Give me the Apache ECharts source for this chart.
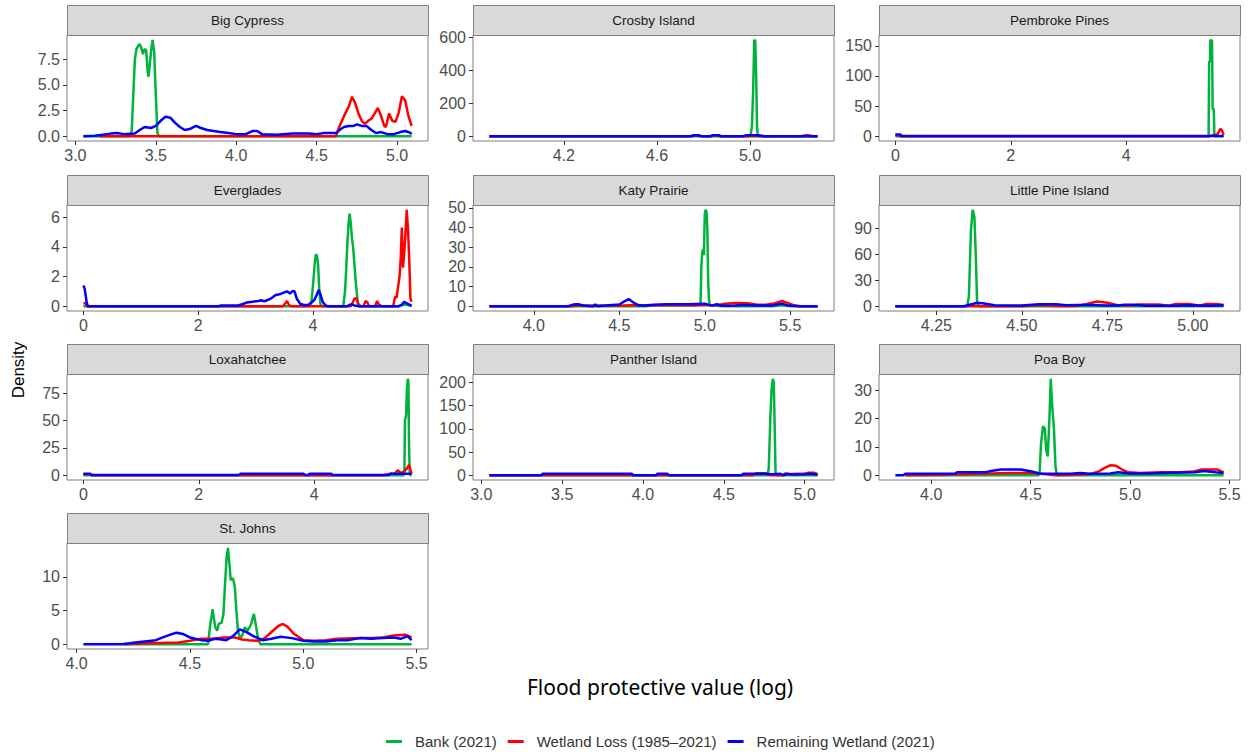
<!DOCTYPE html>
<html>
<head>
<meta charset="utf-8">
<script src="https://cdn.jsdelivr.net/npm/echarts@6/dist/echarts.min.js"></script>
<style>
  html, body { margin: 0; padding: 0; background: #fff; }
  #chart { width: 1249px; height: 752px; }
</style>
</head>
<body>
<div id="chart"></div>
<script>
// series (groups) shared by every panel
var groupNames = ["Bank (2021)", "Wetland Loss (1985–2021)", "Remaining Wetland (2021)"]
var groupColors = ["#00b33c", "#ff0000", "#0000ff"]

var panelNames = ["Big Cypress", "Crosby Island", "Pembroke Pines", "Everglades", "Katy Prairie",
  "Little Pine Island", "Loxahatchee", "Panther Island", "Poa Boy", "St. Johns"]

// tick values per panel
var xTicks = [[3.0, 3.5, 4.0, 4.5, 5.0], [4.2, 4.6, 5.0], [0, 2, 4], [0, 2, 4], [4.0, 4.5, 5.0, 5.5],
  [4.25, 4.5, 4.75, 5.0], [0, 2, 4], [3.0, 3.5, 4.0, 4.5, 5.0], [4.0, 4.5, 5.0, 5.5], [4.0, 4.5, 5.0, 5.5]]
var yTicks = [[0, 2.5, 5, 7.5], [0, 200, 400, 600], [0, 50, 100, 150], [0, 2, 4, 6], [0, 10, 20, 30, 40, 50],
  [0, 30, 60, 90], [0, 25, 50, 75], [0, 50, 100, 150, 200], [0, 10, 20, 30], [0, 5, 10]]
var xDigits = [1, 1, 0, 0, 1, 2, 0, 1, 1, 1]
var yDigits = [1, 0, 0, 0, 0, 0, 0, 0, 0, 0]

// density curves, [x, density]
var bigCypressBank = [[3.05,0],[3.34,0],[3.35,0.5],[3.36,4],[3.37,7.5],[3.38,8.5],[3.39,8.8],[3.40,9.0],[3.41,8.6],[3.42,8.0],[3.43,8.5],[3.44,8.4],[3.45,6.2],[3.455,5.8],[3.46,6.6],[3.47,8.2],[3.48,9.4],[3.49,8.2],[3.50,4.0],[3.51,0.3],[3.52,0],[5.09,0]]
var bigCypressLoss = [[3.15,0],[4.62,0],[4.64,0.9],[4.66,1.6],[4.68,2.3],[4.70,2.9],[4.72,3.85],[4.74,3.2],[4.76,2.2],[4.78,1.5],[4.80,1.2],[4.82,1.5],[4.84,1.7],[4.86,2.2],[4.88,2.75],[4.90,2.0],[4.92,1.0],[4.93,0.9],[4.95,2.2],[4.97,1.5],[4.99,1.4],[5.01,2.3],[5.03,3.9],[5.05,3.5],[5.07,2.0],[5.09,1.0]]
var bigCypressRemain = [[3.05,0],[3.12,0.05],[3.17,0.15],[3.22,0.25],[3.26,0.3],[3.30,0.2],[3.37,0.25],[3.40,0.6],[3.43,0.9],[3.47,0.8],[3.50,1.0],[3.53,1.5],[3.56,1.9],[3.59,1.8],[3.62,1.3],[3.65,0.9],[3.68,0.6],[3.71,0.7],[3.75,1.0],[3.78,0.8],[3.82,0.6],[3.86,0.5],[3.90,0.4],[3.95,0.3],[4.00,0.2],[4.06,0.2],[4.10,0.5],[4.13,0.5],[4.16,0.2],[4.25,0.15],[4.35,0.25],[4.45,0.25],[4.50,0.2],[4.55,0.3],[4.62,0.3],[4.65,0.7],[4.67,0.9],[4.70,1.0],[4.73,1.0],[4.75,1.15],[4.78,1.0],[4.81,1.0],[4.84,0.6],[4.87,0.3],[4.90,0.4],[4.94,0.2],[4.98,0.2],[5.02,0.4],[5.05,0.5],[5.08,0.35],[5.09,0.2]]

var crosbyBank = [[3.88,0],[4.995,0],[5.002,5],[5.008,60],[5.013,270],[5.018,585],[5.022,580],[5.026,375],[5.030,50],[5.034,0],[5.29,0]]
var crosbyLoss = [[3.88,0],[4.74,0],[4.755,4],[4.775,4],[4.785,0],[4.83,0],[4.845,4],[4.86,4],[4.87,0],[5.04,0],[5.05,4],[5.06,0],[5.22,0],[5.235,5],[5.255,5],[5.27,0],[5.29,0]]
var crosbyRemain = [[3.88,0],[4.75,0],[4.76,6],[4.78,6],[4.79,0],[4.83,0],[4.84,6],[4.865,6],[4.875,0],[4.97,0],[4.98,5],[5.04,5],[5.05,0],[5.29,0]]

var pembrokeBank = [[0.0,0],[5.43,0],[5.44,124],[5.455,124],[5.46,160],[5.49,158],[5.50,45],[5.52,45],[5.53,0],[5.69,0]]
var pembrokeLoss = [[0.0,2],[0.05,1],[0.08,0],[5.45,0],[5.52,2],[5.58,3],[5.61,8],[5.635,12],[5.66,10],[5.68,5],[5.69,2]]
var pembrokeRemain = [[0.0,3],[0.09,3],[0.1,0.3],[5.69,0.3]]

var evergladesBank = [[0.0,0],[3.95,0],[3.98,0.5],[4.01,1.8],[4.03,2.8],[4.05,3.5],[4.07,3.4],[4.09,2.8],[4.11,1.2],[4.13,0.2],[4.15,0],[4.53,0],[4.56,1.0],[4.58,2.5],[4.60,4.2],[4.62,5.5],[4.64,6.25],[4.66,5.6],[4.68,4.6],[4.70,4.0],[4.72,3.0],[4.75,1.5],[4.78,0.3],[4.80,0],[5.5,0],[5.58,0.1],[5.64,0.1],[5.72,0]]
var evergladesLoss = [[0.0,0.2],[0.04,0.2],[0.06,0],[3.48,0],[3.52,0.2],[3.55,0.35],[3.58,0.1],[3.62,0],[4.66,0],[4.70,0.3],[4.73,0.55],[4.76,0.5],[4.79,0.15],[4.83,0],[4.88,0],[4.92,0.35],[4.95,0.25],[4.98,0],[5.08,0],[5.12,0.35],[5.15,0.1],[5.20,0],[5.40,0],[5.43,0.6],[5.46,0.6],[5.48,1.2],[5.51,2.0],[5.53,3.2],[5.55,5.3],[5.57,2.6],[5.59,3.5],[5.61,4.7],[5.635,6.5],[5.66,5.0],[5.68,3.0],[5.70,0.5],[5.72,0.3]]
var evergladesRemain = [[0.0,1.4],[0.02,1.2],[0.04,0.7],[0.06,0.2],[0.08,0],[2.35,0],[2.4,0.05],[2.7,0.05],[2.78,0.15],[2.85,0.25],[2.95,0.3],[3.05,0.35],[3.1,0.4],[3.15,0.32],[3.2,0.4],[3.28,0.55],[3.35,0.75],[3.42,0.8],[3.48,0.9],[3.55,1.0],[3.60,0.85],[3.64,1.0],[3.68,1.0],[3.72,0.5],[3.78,0.15],[3.85,0.08],[3.92,0.1],[3.98,0.25],[4.03,0.45],[4.07,0.8],[4.10,1.1],[4.13,0.8],[4.17,0.3],[4.22,0.05],[4.27,0],[4.6,0],[4.64,0.1],[4.68,0.12],[4.72,0.05],[4.8,0],[5.5,0],[5.55,0.1],[5.59,0.3],[5.63,0.2],[5.68,0.1],[5.72,0.05]]

var katyBank = [[3.74,0],[4.65,0],[4.7,0.4],[4.95,0.4],[4.975,1],[4.98,20],[4.985,27],[4.99,29],[4.995,26],[5.0,47],[5.005,49],[5.01,48],[5.015,40],[5.02,12],[5.025,3],[5.03,0.5],[5.1,0],[5.4,0],[5.45,0.5],[5.5,0],[5.66,0]]
var katyLoss = [[3.74,0],[4.22,0],[4.25,0.3],[4.35,0.3],[4.5,0.2],[4.6,0.6],[4.65,0.3],[4.75,0.5],[4.9,0.6],[5.0,0.5],[5.08,0.6],[5.12,1.2],[5.18,1.6],[5.25,1.5],[5.3,0.8],[5.36,0.7],[5.41,1.5],[5.45,2.6],[5.48,1.8],[5.52,0.5],[5.56,0],[5.66,0]]
var katyRemain = [[3.74,0],[4.2,0],[4.23,0.8],[4.26,1.0],[4.29,0.4],[4.33,0],[4.35,0],[4.36,1.0],[4.37,0],[4.42,0.3],[4.46,0.6],[4.5,0.8],[4.53,2.5],[4.555,3.6],[4.58,2.0],[4.61,0.5],[4.65,0.4],[4.7,0.7],[4.78,1.0],[4.9,1.0],[5.0,1.2],[5.04,0.3],[5.07,1.0],[5.1,0.2],[5.18,0.4],[5.22,0.6],[5.3,0.3],[5.4,0.4],[5.45,1.2],[5.49,0.3],[5.55,0],[5.66,0]]

var littlePineBank = [[4.13,0],[4.34,0],[4.345,12],[4.351,89],[4.356,112],[4.361,104],[4.365,61],[4.369,4],[4.375,0],[5.09,0]]
var littlePineLoss = [[4.13,0],[4.5,0],[4.53,0.8],[4.58,0.8],[4.6,0.2],[4.66,0.3],[4.69,2.5],[4.72,5.5],[4.75,4],[4.78,1],[4.82,0.5],[4.84,2],[4.9,2],[4.93,0.5],[4.95,2.5],[4.99,2.5],[5.02,0.5],[5.04,2.5],[5.07,2.5],[5.09,1.5]]
var littlePineRemain = [[4.13,0],[4.33,0],[4.35,2],[4.37,4],[4.39,3],[4.42,1],[4.5,0.8],[4.52,1.5],[4.55,2.2],[4.6,2.2],[4.63,1],[4.66,1.5],[4.7,1.3],[4.75,0.8],[4.78,0.8],[4.8,1.8],[4.83,1.8],[4.86,0.5],[4.95,0.5],[4.98,1],[5.02,0.8],[5.05,0.5],[5.09,1]]

var loxahatcheeBank = [[0,0],[5.55,0],[5.565,3],[5.575,50],[5.595,55],[5.61,80],[5.625,88],[5.635,85],[5.645,30],[5.655,5],[5.665,0],[5.69,0]]
var loxahatcheeLoss = [[0,0.8],[0.12,0.8],[0.14,0],[5.2,0],[5.3,1],[5.4,1.5],[5.45,4.5],[5.5,2],[5.55,3],[5.6,5.5],[5.62,7],[5.645,9.5],[5.66,7],[5.675,4],[5.69,1.5]]
var loxahatcheeRemain = [[0,1.2],[0.12,1.2],[0.14,0.2],[2.7,0.2],[2.72,1.2],[3.82,1.2],[3.84,0.2],[3.9,0.2],[3.92,1.2],[4.3,1.2],[4.32,0.2],[5.3,0.2],[5.32,1.2],[5.69,1.2]]

var pantherBank = [[3.05,0],[4.77,0],[4.778,15],[4.788,126],[4.795,184],[4.803,208],[4.809,200],[4.815,97],[4.82,4],[4.825,0],[5.08,0]]
var pantherLoss = [[3.05,0],[4.68,0],[4.7,4],[4.76,4],[4.78,0],[4.87,0],[4.88,4],[4.9,2],[4.95,3],[5.0,3],[5.02,5],[5.06,5],[5.08,2]]
var pantherRemain = [[3.05,0],[3.37,0],[3.38,3],[3.93,3],[3.94,0],[4.08,0],[4.09,3],[4.15,3],[4.16,0],[4.61,0],[4.62,3],[4.75,3],[4.8,2],[4.85,3],[4.87,0],[4.89,3],[4.93,1.5],[5.0,2],[5.04,3],[5.08,1]]

var poaBoyBank = [[3.87,0],[4.54,0],[4.545,1],[4.552,11],[4.562,17.3],[4.571,16.5],[4.578,9],[4.586,6.6],[4.595,21],[4.601,34],[4.608,24.7],[4.617,16.5],[4.625,3],[4.632,0],[5.47,0]]
var poaBoyLoss = [[3.87,0],[4.05,0.1],[4.25,0.5],[4.4,0.8],[4.5,0.8],[4.58,0.3],[4.62,0],[4.7,0.1],[4.8,0.4],[4.84,1.2],[4.87,2.5],[4.9,3.5],[4.93,3.3],[4.96,2],[4.99,1],[5.05,0.8],[5.15,1],[5.25,1],[5.32,1.3],[5.36,2],[5.44,2],[5.47,1]]
var poaBoyRemain = [[3.82,0],[3.86,0],[3.87,0.5],[4.12,0.5],[4.13,1],[4.27,1],[4.3,1.5],[4.35,2],[4.45,2],[4.5,1.4],[4.55,0.5],[4.7,0.5],[4.75,0.8],[4.8,0.5],[4.9,0.6],[4.94,1],[5.0,0.6],[5.1,0.6],[5.2,0.9],[5.33,1],[5.37,1.5],[5.43,1],[5.47,0.8]]

var stJohnsBank = [[4.21,0],[4.58,0],[4.59,3],[4.60,5.2],[4.605,4],[4.612,2.5],[4.62,2],[4.627,3],[4.64,3.2],[4.648,4.5],[4.655,9],[4.662,13],[4.668,14.3],[4.674,12],[4.68,9.5],[4.69,9.8],[4.698,8.5],[4.705,5],[4.712,2],[4.72,1],[4.73,1.2],[4.742,2.5],[4.755,2],[4.77,3],[4.782,4.5],[4.79,3],[4.8,1],[4.81,0],[5.478,0]]
var stJohnsLoss = [[4.21,0],[4.3,0.1],[4.4,0.2],[4.45,0.25],[4.5,0.5],[4.55,0.8],[4.6,0.8],[4.65,1.0],[4.7,1.0],[4.73,0.7],[4.76,0.6],[4.8,0.5],[4.83,0.9],[4.86,1.8],[4.89,2.7],[4.91,3.0],[4.93,2.6],[4.96,1.5],[5.0,0.6],[5.05,0.5],[5.1,0.6],[5.15,0.8],[5.25,0.9],[5.3,0.9],[5.35,1.0],[5.4,1.3],[5.45,1.4],[5.478,1.0]]
var stJohnsRemain = [[4.03,0],[4.2,0],[4.25,0.2],[4.3,0.4],[4.35,0.6],[4.38,1.0],[4.42,1.5],[4.44,1.7],[4.47,1.5],[4.5,1.0],[4.55,0.6],[4.58,0.5],[4.61,0.8],[4.64,0.7],[4.66,0.6],[4.69,1.2],[4.72,2.2],[4.75,1.8],[4.78,1.2],[4.82,0.6],[4.86,0.8],[4.9,1.1],[4.95,0.9],[5.0,0.5],[5.05,0.4],[5.1,0.4],[5.15,0.6],[5.2,0.6],[5.25,0.9],[5.3,0.8],[5.35,0.9],[5.4,1.0],[5.43,0.8],[5.46,1.2],[5.478,0.6]]

var panelData = [
  [bigCypressBank, bigCypressLoss, bigCypressRemain],
  [crosbyBank, crosbyLoss, crosbyRemain],
  [pembrokeBank, pembrokeLoss, pembrokeRemain],
  [evergladesBank, evergladesLoss, evergladesRemain],
  [katyBank, katyLoss, katyRemain],
  [littlePineBank, littlePineLoss, littlePineRemain],
  [loxahatcheeBank, loxahatcheeLoss, loxahatcheeRemain],
  [pantherBank, pantherLoss, pantherRemain],
  [poaBoyBank, poaBoyLoss, poaBoyRemain],
  [stJohnsBank, stJohnsLoss, stJohnsRemain]
]

// facet layout
var colLeft = [67, 473, 879]
var rowTop = [35, 205, 374, 543]
var panelW = 361
var panelH = 106
var stripH = 30

var chart = echarts.init(document.getElementById("chart"), null, { renderer: "svg" })

var grids = [], xAxes = [], yAxes = [], series = [], graphics = []
var labelFont = "Liberation Sans, Arial, sans-serif"

panelNames.forEach(function (name, i) {
  var left = colLeft[i % 3]
  var top = rowTop[Math.floor(i / 3)]
  var xMin = Infinity, xMax = -Infinity, yMax = 0
  panelData[i].forEach(function (arr) {
    arr.forEach(function (p) {
      if (p[0] < xMin) xMin = p[0]
      if (p[0] > xMax) xMax = p[0]
      if (p[1] > yMax) yMax = p[1]
    })
  })
  var xPad = (xMax - xMin) * 0.05
  grids.push({
    left: left, top: top, width: panelW, height: panelH,
    show: true, borderColor: "#7f7f7f", borderWidth: 1, backgroundColor: "#fff"
  })
  xAxes.push({
    type: "value", gridIndex: i, min: xMin - xPad, max: xMax + xPad,
    axisLine: { show: false, onZero: false },
    splitLine: { show: false },
    axisTick: { show: true, length: 4, lineStyle: { color: "#333" }, customValues: xTicks[i] },
    axisLabel: {
      customValues: xTicks[i], margin: 6, fontSize: 16, color: "#4d4d4d", fontFamily: labelFont,
      formatter: (function (d) { return function (v) { return Number(v).toFixed(d) } })(xDigits[i])
    }
  })
  yAxes.push({
    type: "value", gridIndex: i, min: -yMax * 0.05, max: yMax * 1.05,
    axisLine: { show: false, onZero: false },
    splitLine: { show: false },
    axisTick: { show: true, length: 4, lineStyle: { color: "#333" }, customValues: yTicks[i] },
    axisLabel: {
      customValues: yTicks[i], margin: 7, fontSize: 16, color: "#4d4d4d", fontFamily: labelFont,
      formatter: (function (d) { return function (v) { return Number(v).toFixed(d) } })(yDigits[i])
    }
  })
  panelData[i].forEach(function (arr, g) {
    series.push({
      name: groupNames[g], type: "line", xAxisIndex: i, yAxisIndex: i,
      data: arr, showSymbol: false, symbol: "none",
      lineStyle: { width: 2.5, color: groupColors[g] },
      itemStyle: { color: groupColors[g] },
      z: 2 + g
    })
  })
  // facet strip
  graphics.push({
    type: "rect", left: left, top: top - stripH,
    shape: { width: panelW, height: stripH },
    style: { fill: "#d9d9d9", stroke: "#7f7f7f", lineWidth: 1 }
  })
  graphics.push({
    type: "text", x: left + panelW / 2, y: top - stripH / 2,
    style: { text: name, fill: "#1a1a1a", font: "13.5px " + labelFont, textAlign: "center", textVerticalAlign: "middle" }
  })
})

graphics.push({
  type: "text", x: 18, y: 370, rotation: Math.PI / 2,
  style: { text: "Density", fill: "#000", font: "17px " + labelFont, textAlign: "center", textVerticalAlign: "middle" }
})
graphics.push({
  type: "text", x: 660, y: 687,
  style: { text: "Flood protective value (log)", fill: "#000", font: "21px Noto Sans, Open Sans, sans-serif", textAlign: "center", textVerticalAlign: "middle" }
})

chart.setOption({
  backgroundColor: "#fff",
  animation: false,
  grid: grids,
  xAxis: xAxes,
  yAxis: yAxes,
  series: series,
  graphic: graphics,
  legend: {
    data: groupNames,
    left: 381,
    top: 729,
    icon: "rect",
    itemWidth: 16,
    itemHeight: 3,
    itemGap: 11,
    textStyle: { fontSize: 15, color: "#333", fontFamily: labelFont, padding: [0, 0, 0, 8] }
  }
})
</script>
</body>
</html>
